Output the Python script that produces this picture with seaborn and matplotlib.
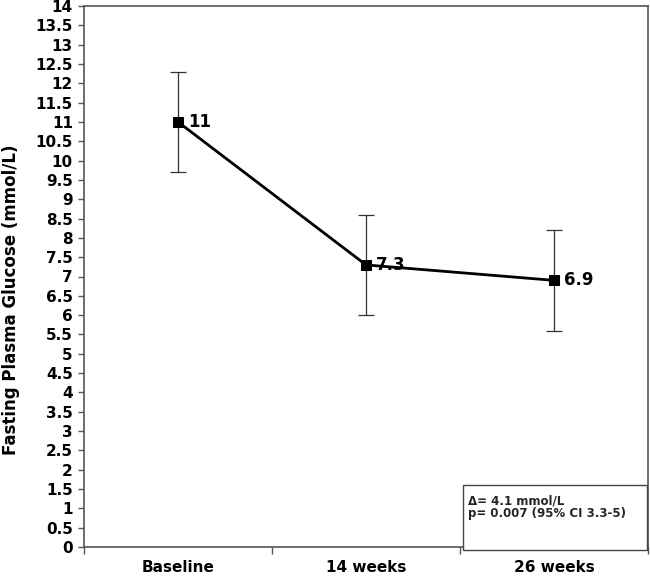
import matplotlib
matplotlib.use("Agg")
import matplotlib.pyplot as plt
import matplotlib.ticker as mticker
from matplotlib.patches import Rectangle
import seaborn as sns
import pandas as pd
import numpy as np

categories = ["Baseline", "14 weeks", "26 weeks"]
means = [11.0, 7.3, 6.9]
errors = [1.3, 1.3, 1.3]
point_labels = ["11", "7.3", "6.9"]
y_ticks = [i * 0.5 for i in range(29)]
ylabel = "Fasting Plasma Glucose (mmol/L)"
box_lines = ["\u0394= 4.1 mmol/L", "p= 0.007 (95% CI 3.3-5)"]

sns.set_theme(style="white")
plt.rcParams["font.family"] = ["DejaVu Sans"]
plt.rcParams["font.weight"] = "bold"

df = pd.DataFrame({"time": categories, "fpg": means})
pos = np.arange(len(categories))

fig = plt.figure(figsize=(6.5, 5.76), dpi=100)
ax = fig.add_axes([84 / 650, 29 / 576, 564 / 650, 541 / 576])

ax.errorbar(pos, means, yerr=errors, fmt="none", ecolor="#333333",
            elinewidth=0.9, capsize=6, capthick=0.9, zorder=2)
sns.lineplot(data=df, x=pos, y="fpg", ax=ax, color="black", linewidth=2.0,
             marker="s", markersize=7.5, markeredgecolor="black",
             markerfacecolor="black", zorder=3, sort=False)

for x, y, t in zip(pos, means, point_labels):
    ax.annotate(t, (x, y), xytext=(7, 0), textcoords="offset points",
                ha="left", va="center", fontsize=12, fontweight="bold",
                color="black", zorder=4)

ax.set_xlim(-0.5, len(categories) - 0.5)
ax.set_ylim(0, 14)
ax.set_xticks(pos)
ax.set_xticklabels(categories)
ax.set_xticks(np.arange(len(categories) + 1) - 0.5, minor=True)
ax.set_yticks(y_ticks)
ax.yaxis.set_major_formatter(mticker.FuncFormatter(lambda v, p: f"{v:g}"))
ax.tick_params(axis="x", which="major", length=0, pad=9, labelsize=11)
ax.tick_params(axis="x", which="minor", length=5, width=1, color="#555555",
               direction="out", bottom=True)
ax.tick_params(axis="y", which="major", length=4, width=1, color="#555555",
               direction="out", left=True, pad=4, labelsize=11)
for lab in ax.get_xticklabels() + ax.get_yticklabels():
    lab.set_fontweight("bold")
    lab.set_color("black")

ax.set_xlabel("")
ax.set_ylabel(ylabel, fontsize=12, fontweight="bold", color="black")
ax.yaxis.set_label_coords(-0.113, 0.457)

for s in ax.spines.values():
    s.set_visible(True)
    s.set_color("#555555")
    s.set_linewidth(1.2)

rect = Rectangle((0.672, -0.006), 0.326, 0.121, transform=ax.transAxes,
                 facecolor="white", edgecolor="#444444", linewidth=1.0,
                 clip_on=False, zorder=5)
ax.add_patch(rect)
ax.text(0.681, 0.085, box_lines[0], transform=ax.transAxes, fontsize=8.5,
        fontweight="bold", va="center", ha="left", zorder=6)
ax.text(0.681, 0.061, box_lines[1], transform=ax.transAxes, fontsize=8.5,
        fontweight="bold", va="center", ha="left", zorder=6)

fig.savefig("out.png", dpi=100)
